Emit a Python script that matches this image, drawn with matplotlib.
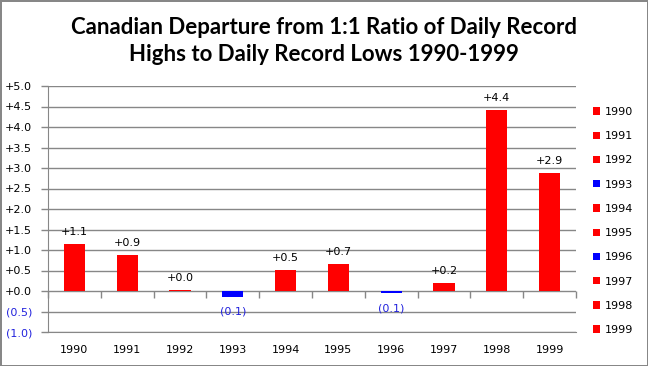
import matplotlib
matplotlib.use("Agg")
import matplotlib.pyplot as plt
import numpy as np

years = ["1990", "1991", "1992", "1993", "1994", "1995", "1996", "1997", "1998", "1999"]
departure = [1.14, 0.88, 0.03, -0.14, 0.51, 0.67, -0.06, 0.20, 4.41, 2.88]
y_ticks = [-1.0, -0.5, 0.0, 0.5, 1.0, 1.5, 2.0, 2.5, 3.0, 3.5, 4.0, 4.5, 5.0]

RED = "#ff0000"
BLUE = "#0000ff"
NEG_TEXT = "#2222dd"
GRID = "#878787"
FS = 8

plt.rcParams["font.family"] = ["DejaVu Sans"]


def fmt(v):
    # formato estilo Excel: +0.0 ; (0.0)
    if round(v, 1) < 0:
        return f"({abs(v):.1f})"
    return f"+{abs(v):.1f}"


fig = plt.figure(figsize=(6.48, 3.66), dpi=100)
fig.patch.set_edgecolor(GRID)
fig.patch.set_linewidth(2)
ax = fig.add_axes([48 / 648, 1 - 332 / 366, 528 / 648, 246 / 366])

x = np.arange(len(years))
for i, (yr, v) in enumerate(zip(years, departure)):
    color = BLUE if v < 0 else RED
    ax.bar(x[i], v, width=0.4, color=color, label=yr, zorder=3)
    ax.annotate(fmt(v), (x[i], v), xytext=(0, 5 if v >= 0 else -7),
                textcoords="offset points", ha="center",
                va="bottom" if v >= 0 else "top", fontsize=FS,
                color="black" if v >= 0 else NEG_TEXT)

ax.set_xlim(-0.5, len(years) - 0.5)
ax.set_ylim(-1.0, 5.0)
ax.set_yticks(y_ticks)
ax.set_yticklabels([fmt(t) for t in y_ticks])
for lbl, t in zip(ax.get_yticklabels(), y_ticks):
    lbl.set_color(NEG_TEXT if t < 0 else "black")
ax.tick_params(axis="y", length=5, color=GRID, width=1, pad=6.5, labelsize=FS)
ax.grid(axis="y", color=GRID, linewidth=1, zorder=0)

# etiquetas de años abajo, sin marcas
ax.set_xticks(x)
ax.set_xticklabels(years)
ax.tick_params(axis="x", length=0, pad=9.5, labelsize=FS)

for s in ["top", "right"]:
    ax.spines[s].set_visible(False)
ax.spines["left"].set_color(GRID)
ax.spines["bottom"].set_color(GRID)

# marcas del eje en la línea de cero
sec = ax.secondary_xaxis(1 / 6)
sec.set_xticks(np.arange(len(years) + 1) - 0.5)
sec.set_xticklabels([])
sec.tick_params(length=5, color=GRID, width=1)
sec.spines["bottom"].set_visible(False)

fig.text(0.5, 1 - 41 / 366, "Canadian Departure from 1:1 Ratio of Daily Record\nHighs to Daily Record Lows 1990-1999",
         ha="center", va="center", fontsize=16, fontweight="bold",
         family="Lato", linespacing=1.3)

leg = fig.legend(loc="upper left", bbox_to_anchor=(593 / 648, 1 - 107 / 366),
                 frameon=False, fontsize=FS, handlelength=0.65, handleheight=0.65,
                 handletextpad=0.4, labelspacing=1.28, borderaxespad=0, borderpad=0)

fig.savefig("out.png", dpi=100)
